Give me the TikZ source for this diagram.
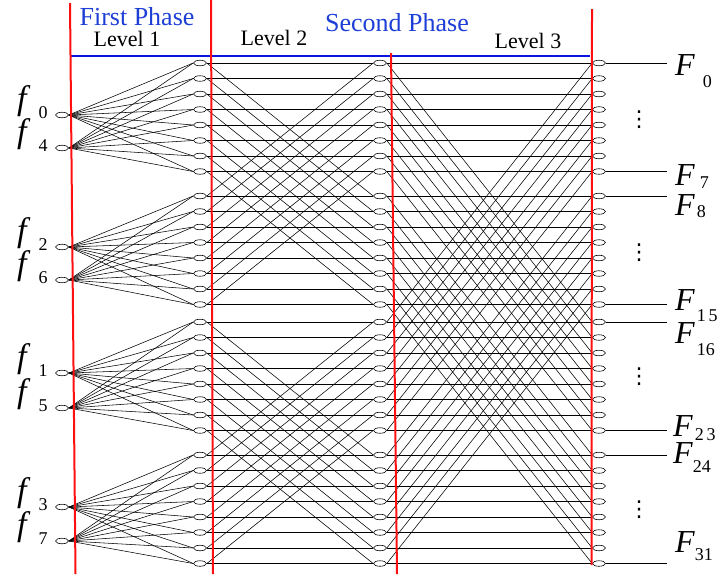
\documentclass[tikz,border=0pt]{standalone}
\usepackage{fontspec}
\setmainfont{Liberation Serif}
\newfontfamily\dotsfont{DejaVu Sans}
\usepackage{tikz}
\usetikzlibrary{
  positioning,
  shapes.geometric,
  backgrounds
}
\definecolor{PhaseBlue}{HTML}{1E3FD6}
\definecolor{BarBlue}{HTML}{0A14E0}
\definecolor{LevelRed}{HTML}{FF1010}
\newcommand{\inlab}[1]{%
  {\fontsize{34}{34}\selectfont\itshape f}\hspace{12pt}%
  \raisebox{-9pt}{\fontsize{18}{18}\selectfont #1}}
\newcommand{\outlab}[3]{%
  {\fontsize{32}{32}\selectfont\itshape F}\hspace{#2}%
  \raisebox{-#3}{\fontsize{18}{18}\selectfont #1}}
\tikzset{
  point/.style={
    ellipse,
    draw,
    fill=white,
    line width=0.6pt,
    minimum width=13pt,
    minimum height=5.5pt,
    inner sep=0pt
  },
  wire/.style={
    line width=0.55pt
  },
  levelline/.style={
    draw=LevelRed,
    line width=2pt
  },
  phasebar/.style={
    draw=BarBlue,
    line width=2pt
  },
  phase/.style={
    anchor=base,
    text=PhaseBlue,
    inner sep=0pt,
    font=\fontsize{26}{26}\selectfont
  },
  level/.style={
    anchor=base,
    inner sep=0pt,
    font=\fontsize{22}{22}\selectfont
  },
  label/.style={
    anchor=base west,
    inner sep=0pt
  },
  dots/.style={
    inner sep=0pt,
    font=\dotsfont\fontsize{22}{22}\selectfont
  }
}

\begin{document}
\begin{tikzpicture}[
  x=1pt,
  y=-1pt
]
  \useasboundingbox (0,0) rectangle (719,574);

  \foreach \g/\gy in {0/63,1/196,2/322,3/455}{
    \foreach \k in {0,...,7}{
      \node[point] (a\g\k) at (200,{\gy+15.5*\k}) {};
      \node[point] (b\g\k) at (380,{\gy+15.5*\k}) {};
      \node[point] (c\g\k) at (599,{\gy+15.5*\k}) {};
    }
  }

  \foreach \f/\fy in {0/115,4/148,2/247,6/280,1/373,5/408,3/507,7/541}{
    \node[point] (f\f) at (62,\fy) {};
    \node[label] (fl\f) at (17,{\fy-6}) {\inlab{\f}};
  }

  \coordinate (tip) at (667,0);

  \begin{scope}[on background layer]
    % level 1
    \foreach \f/\g in {0/0,4/0,2/1,6/1,1/2,5/2,3/3,7/3}{
      \foreach \k in {0,...,7}{
        \draw[wire] (f\f.east) -- (a\g\k.west);
      }
    }
    % straight wires
    \foreach \g in {0,...,3}{
      \foreach \k in {0,...,7}{
        \draw[wire] (a\g\k.east) -- (b\g\k.west);
        \draw[wire] (b\g\k.east) -- (c\g\k.west);
      }
    }
    % level 2
    \foreach \p/\q in {0/1,1/0,2/3,3/2}{
      \foreach \k in {0,...,7}{
        \draw[wire] (a\p\k.east) -- (b\q\k.west);
      }
    }
    % level 3
    \foreach \p/\q in {0/2,2/0,1/3,3/1}{
      \foreach \k in {0,...,7}{
        \draw[wire] (b\p\k.east) -- (c\q\k.west);
      }
    }
    \foreach \g in {0,...,3}{
      \draw[wire] (c\g0.east) -- (c\g0.east -| tip);
      \draw[wire] (c\g7.east) -- (c\g7.east -| tip);
    }
  \end{scope}

  \node[label] (F0) at (675,75) {\outlab{0}{8pt}{12pt}};
  \node[label] (F7) at (675,185) {\outlab{7}{5pt}{3pt}};
  \node[label] (F8) at (675,215) {\outlab{8}{2pt}{2pt}};
  \node[label] (F15) at (675,310) {\outlab{1\,5}{2pt}{11pt}};
  \node[label] (F16) at (675,343) {\outlab{16}{2pt}{12pt}};
  \node[label] (F23) at (673,436) {\outlab{2\,3}{2pt}{4pt}};
  \node[label] (F24) at (673,463) {\outlab{24}{0pt}{9pt}};
  \node[label] (F31) at (675,552) {\outlab{31}{0pt}{8pt}};

  \node[dots] (d0) at (639,120) {⋮};
  \node[dots] (d1) at (639,253) {⋮};
  \node[dots] (d2) at (639,377) {⋮};
  \node[dots] (d3) at (639,510) {⋮};

  \draw[phasebar] (70,56) -- (590,56);
  \draw[levelline] (70,3) -- (75.5,574);
  \draw[levelline] (211,0) -- (213,574);
  \draw[levelline] (391,53) -- (397,574);
  \draw[levelline] (592,9) -- (591.5,565);

  \node[phase] (ph1) at (137,25) {First Phase};
  \node[phase] (ph2) at (397,31) {Second Phase};
  \node[level] (lv1) at (127,46) {Level 1};
  \node[level] (lv2) at (274,45) {Level 2};
  \node[level] (lv3) at (528,48) {Level 3};

\end{tikzpicture}
\end{document}
